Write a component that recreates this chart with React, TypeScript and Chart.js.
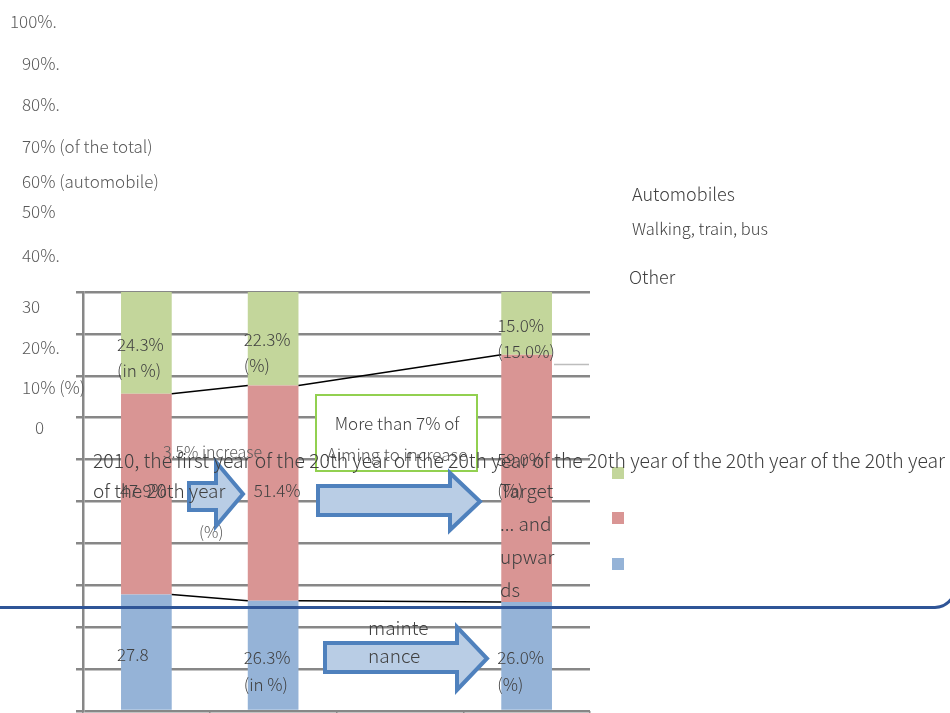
import React, { useEffect, useRef } from "react";
import { Chart, registerables } from "chart.js";

Chart.register(...registerables);

const categories = ["2010", "Interim", "", "Target"];
const otherValues = [27.8, 26.3, null, 26.0];
const walkValues = [47.9, 51.4, null, 59.0];
const autoValues = [24.3, 22.3, null, 15.0];
const legendLabels = ["Automobiles", "Walking, train, bus", "Other"];
const yTickTexts = [
  "100%.", "90%.", "80%.", "70% (of the total)", "60% (automobile)", "50%", "40%.", "30", "20%.", "10% (%)", "0",
];
const topLabels = [["24.3%", "(in %)"], ["22.3%", "(%)"], [], ["15.0%", "(15.0%)"]];
const midLabels = [["47.9%"], ["51.4%"], [], ["59.0%", "(%)"]];
const lowLabels = [["27.8"], ["26.3%", "(in %)"], [], ["26.0%", "(%)"]];
const noteLong = "2010, the first year of the 20th year of the 20th year of the 20th year of the 20th year of the 20th year";
const noteLong2 = "of the 20th year";
const targetNote = ["Target", "... and", "upwar", "ds"];

const GREEN = "#C3D69B";
const RED = "#D99594";
const BLUE = "#95B3D7";
const FONT = "'Noto Sans CJK JP Light', 'Noto Sans CJK JP', 'Noto Sans', sans-serif";

function txt(ctx: CanvasRenderingContext2D, s: string, x: number, y: number, size: number, color: string, align: CanvasTextAlign = "left", maxW?: number) {
  ctx.save();
  ctx.font = `300 ${size}px ${FONT}`;
  ctx.fillStyle = color;
  ctx.textAlign = align;
  ctx.textBaseline = "middle";
  if (maxW) ctx.fillText(s, x, y, maxW);
  else ctx.fillText(s, x, y);
  ctx.restore();
}

function arrow(ctx: CanvasRenderingContext2D, x0: number, bt: number, bb: number, hx: number, ht: number, hb: number, tip: number) {
  const yc = (ht + hb) / 2;
  ctx.save();
  ctx.beginPath();
  ctx.moveTo(x0, bt);
  ctx.lineTo(hx, bt);
  ctx.lineTo(hx, ht);
  ctx.lineTo(tip, yc);
  ctx.lineTo(hx, hb);
  ctx.lineTo(hx, bb);
  ctx.lineTo(x0, bb);
  ctx.closePath();
  ctx.fillStyle = "#B9CDE5";
  ctx.fill();
  ctx.strokeStyle = "#4F81BD";
  ctx.lineWidth = 4;
  ctx.lineJoin = "miter";
  ctx.stroke();
  ctx.restore();
}

const overlay = {
  id: "overlay",
  afterDatasetsDraw(chart: any) {
    const ctx: CanvasRenderingContext2D = chart.ctx;
    const metaBlue = chart.getDatasetMeta(0).data;
    const metaRed = chart.getDatasetMeta(1).data;
    const metaGreen = chart.getDatasetMeta(2).data;
    const idx = categories.map((_, i) => i).filter((i) => otherValues[i] != null);

    // series lines connecting segment tops
    ctx.save();
    ctx.strokeStyle = "#000";
    ctx.lineWidth = 1.5;
    ctx.beginPath();
    for (let k = 0; k < idx.length - 1; k++) {
      const a = metaBlue[idx[k]], b = metaBlue[idx[k + 1]];
      ctx.moveTo(a.x + a.width / 2, a.y);
      ctx.lineTo(b.x - b.width / 2, b.y);
      const c = metaRed[idx[k]], d = metaRed[idx[k + 1]];
      ctx.moveTo(c.x + c.width / 2, c.y);
      ctx.lineTo(d.x - d.width / 2, d.y);
    }
    ctx.stroke();
    ctx.restore();

    // stray light grey line
    ctx.save();
    ctx.strokeStyle = "#BDBDBD";
    ctx.lineWidth = 1.5;
    ctx.beginPath();
    ctx.moveTo(554, 364.5);
    ctx.lineTo(589, 364.5);
    ctx.stroke();
    ctx.restore();

    // green box
    ctx.save();
    ctx.fillStyle = "#fff";
    ctx.fillRect(316, 395, 161, 76);
    ctx.strokeStyle = "#92D050";
    ctx.lineWidth = 2;
    ctx.strokeRect(316, 395, 161, 76);
    ctx.restore();

    // arrows
    arrow(ctx, 189, 483, 510, 216, 462, 526, 243);
    arrow(ctx, 318, 486, 515, 450, 473, 530, 480);
    arrow(ctx, 325, 643, 672, 457, 627, 690, 487);

    // long blue rounded line
    ctx.save();
    ctx.strokeStyle = "#2F5597";
    ctx.lineWidth = 3;
    ctx.beginPath();
    ctx.moveTo(0, 607.5);
    ctx.lineTo(935, 607.5);
    ctx.quadraticCurveTo(946, 607, 952, 598);
    ctx.stroke();
    ctx.restore();

    // left floating tick texts
    const tickPos = [[10, 22], [22, 64], [22, 105], [22, 147], [22, 182], [22, 212], [22, 256], [22, 307], [22, 348], [22, 388], [35, 428]];
    yTickTexts.forEach((t, i) => txt(ctx, t, tickPos[i][0], tickPos[i][1], 17, "#595959"));

    // legend
    txt(ctx, legendLabels[0], 632, 194, 18, "#404040");
    txt(ctx, legendLabels[1], 632, 229, 16.5, "#404040");
    txt(ctx, legendLabels[2], 629, 277, 18, "#404040");
    const sq = [[GREEN, 467], [RED, 512], [BLUE, 558]];
    sq.forEach(([c, y]) => {
      ctx.fillStyle = c as string;
      ctx.fillRect(612, y as number, 12, 12);
    });

    // data labels
    const dark = "#404040";
    categories.forEach((_, i) => {
      if (otherValues[i] == null) return;
      const g = metaGreen[i];
      const lx = g.x - g.width / 2 - 4;
      const gy = i === 3 ? g.y + 34 : i === 0 ? g.y + 53 : g.y + 48;
      topLabels[i].forEach((s, k) => txt(ctx, s, lx, gy + k * 26, 17, dark));
      if (i === 3) {
        txt(ctx, midLabels[i][0], lx, 460, 17, dark);
        txt(ctx, midLabels[i][1], lx, 491, 17, dark);
      } else {
        txt(ctx, midLabels[i][0], i === 0 ? lx + 3 : lx + 10, 491, 17, dark);
      }
      const by = i === 0 ? 655 : 658;
      lowLabels[i].forEach((s, k) => txt(ctx, s, lx, by + k * 27, 17, dark));
    });

    // notes
    txt(ctx, "3.5% increase", 163, 452, 16, "#595959");
    txt(ctx, "(%)", 199, 532, 16, "#595959");
    txt(ctx, "More than 7% of", 397, 424, 17, "#404040", "center");
    txt(ctx, "Aiming to increase", 397, 455, 17, "#595959", "center");
    txt(ctx, "mainte", 368, 628, 19, "#404040");
    txt(ctx, "nance", 368, 656, 19, "#404040");
    targetNote.forEach((s, k) => txt(ctx, s, 500, 491 + k * 33, 19, "#404040"));
    txt(ctx, noteLong, 93, 460, 20, "#404040", "left", 852);
    txt(ctx, noteLong2, 93, 491, 19, "#404040");
  },
};

export default function App() {
  const ref = useRef<HTMLCanvasElement | null>(null);
  useEffect(() => {
    if (!ref.current) return;
    const chart = new Chart(ref.current, {
      type: "bar",
      data: {
        labels: categories,
        datasets: [
          { label: legendLabels[2], data: otherValues as any, backgroundColor: BLUE, borderWidth: 0 },
          { label: legendLabels[1], data: walkValues as any, backgroundColor: RED, borderWidth: 0 },
          { label: legendLabels[0], data: autoValues as any, backgroundColor: GREEN, borderWidth: 0 },
        ],
      },
      options: {
        animation: false,
        responsive: false,
        layout: { padding: { left: 76, top: 292, right: 360, bottom: 0 } },
        plugins: { legend: { display: false }, tooltip: { enabled: false } },
        datasets: { bar: { barPercentage: 0.4, categoryPercentage: 1 } },
        scales: {
          x: {
            stacked: true,
            ticks: { display: false },
            grid: { drawOnChartArea: false, drawTicks: true, tickLength: 4, color: "#8c8c8c", lineWidth: 1.5, offset: true },
            border: { display: false },
            afterFit: (s: any) => { s.height = 2; },
          },
          y: {
            stacked: true,
            min: 0,
            max: 100,
            ticks: { display: false, stepSize: 10 },
            grid: { color: "#878787", lineWidth: 2.5, tickLength: 7, drawTicks: true },
            border: { display: true, color: "#878787", width: 2.5 },
            afterFit: (s: any) => { s.width = 7; },
          },
        },
      },
      plugins: [overlay],
    });
    return () => chart.destroy();
  }, []);
  return (
    <div style={{ position: "fixed", left: 0, top: 0, width: 950, height: 713, background: "#fff" }}>
      <canvas ref={ref} width={950} height={713} style={{ width: 950, height: 713 }} />
    </div>
  );
}
